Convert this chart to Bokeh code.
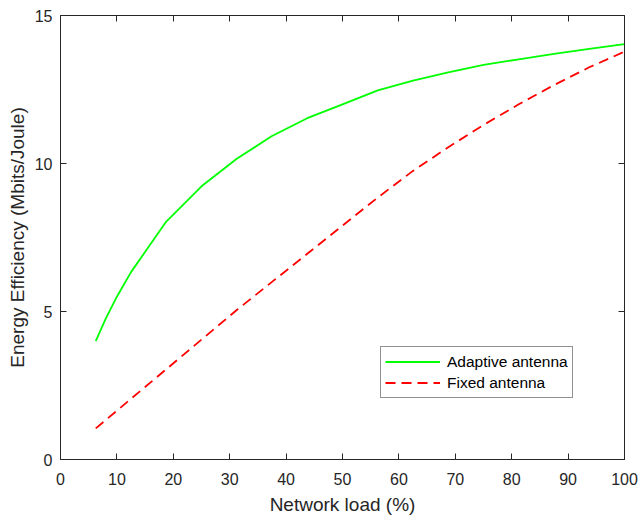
from bokeh.plotting import figure
from bokeh.models import Range1d, FixedTicker, LinearAxis, Legend, LegendItem
from bokeh.embed import file_html
from bokeh.resources import INLINE

# ---- data ----
load_adaptive = [6.25, 8.0, 10.0, 12.5, 18.75, 25.0, 31.25, 37.5, 43.75, 50.0,
                 56.25, 62.5, 68.75, 75.0, 81.25, 87.5, 93.75, 100.0]
ee_adaptive = [4.0, 4.75, 5.5, 6.33, 8.04, 9.23, 10.16, 10.93, 11.53, 12.0,
               12.47, 12.8, 13.08, 13.33, 13.52, 13.7, 13.87, 14.03]

load_fixed = [6.25, 12.5, 18.75, 25.0, 31.25, 37.5, 43.75, 50.0,
              56.25, 62.5, 68.75, 75.0, 81.25, 87.5, 93.75, 100.0]
ee_fixed = [1.05, 2.05, 3.05, 4.05, 5.05, 6.0, 6.95, 7.9,
            8.85, 9.75, 10.55, 11.3, 12.0, 12.65, 13.25, 13.78]

x_ticks = [0, 10, 20, 30, 40, 50, 60, 70, 80, 90, 100]
y_ticks = [0, 5, 10, 15]
series_names = ["Adaptive antenna", "Fixed antenna"]

FONT = "Liberation Sans"
AX = "#262626"

p = figure(width=639, height=517, output_backend="svg",
           toolbar_location=None, x_range=Range1d(0, 100), y_range=Range1d(0, 15),
           min_border_left=60, min_border_right=15, min_border_top=15, min_border_bottom=56)
p.xgrid.visible = False
p.ygrid.visible = False
p.outline_line_color = AX
p.background_fill_color = "white"
p.border_fill_color = "white"

r1 = p.line(load_adaptive, ee_adaptive, line_color="#00ff00", line_width=1.8)
r2 = p.line(load_fixed, ee_fixed, line_color="#ff0000", line_width=1.8, line_dash="10 6")

xa = p.xaxis[0]
xa.ticker = FixedTicker(ticks=x_ticks)
ya = p.yaxis[0]
ya.ticker = FixedTicker(ticks=y_ticks)
for ax in (xa, ya):
    ax.major_tick_in = 6
    ax.major_tick_out = 0
    ax.minor_tick_line_color = None
    ax.axis_line_color = AX
    ax.major_tick_line_color = AX
    ax.major_label_text_font = FONT
    ax.major_label_text_font_size = "16px"
    ax.major_label_text_color = AX
    ax.axis_label_text_font = FONT
    ax.axis_label_text_font_size = "19px"
    ax.axis_label_text_font_style = "normal"
    ax.axis_label_text_color = AX
xa.axis_label = "Network load (%)"
ya.axis_label = "Energy Efficiency (Mbits/Joule)"
xa.major_label_standoff = 13
xa.axis_label_standoff = 6
ya.major_label_standoff = 8
ya.axis_label_standoff = 4

# top and right axes: ticks only (labels not painted)
for loc, ticks in (("above", x_ticks), ("right", y_ticks)):
    ax = LinearAxis(ticker=FixedTicker(ticks=ticks))
    ax.major_tick_in = 6
    ax.major_tick_out = 0
    ax.minor_tick_line_color = None
    ax.axis_line_color = AX
    ax.major_tick_line_color = AX
    ax.major_label_text_font_size = "1px"
    ax.major_label_text_color = None
    ax.major_label_standoff = 0
    p.add_layout(ax, loc)

legend = Legend(items=[LegendItem(label=series_names[0], renderers=[r1]),
                       LegendItem(label=series_names[1], renderers=[r2])],
                location=(320, 61))
legend.label_text_font = FONT
legend.label_text_font_size = "15.5px"
legend.label_text_color = "black"
legend.border_line_color = AX
legend.border_line_width = 1
legend.background_fill_color = "white"
legend.background_fill_alpha = 1
legend.padding = 4
legend.spacing = 0
legend.margin = 0
legend.glyph_width = 55
legend.glyph_height = 21
legend.label_height = 21
legend.label_standoff = 7
p.add_layout(legend, "center")

open("out.html", "w").write(file_html(p, INLINE))
